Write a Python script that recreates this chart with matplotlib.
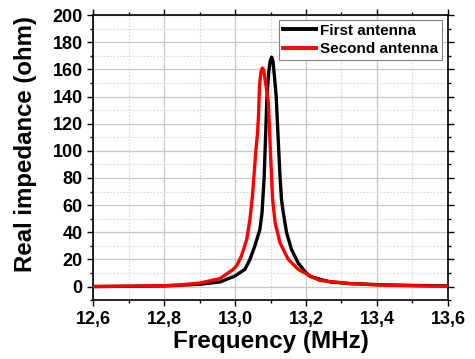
import matplotlib
matplotlib.use("Agg")
import matplotlib.pyplot as plt
from matplotlib.ticker import MultipleLocator, FixedLocator, FixedFormatter

plt.rcParams['font.family'] = ['Liberation Sans', 'DejaVu Sans']
plt.rcParams['font.weight'] = 'bold'

# First antenna (black)
freq1 = [12.60, 12.70, 12.80, 12.845, 12.901, 12.958, 13.000, 13.028, 13.042, 13.056,
         13.070, 13.076, 13.082, 13.086, 13.090, 13.095, 13.099, 13.103, 13.107, 13.111,
         13.116, 13.121, 13.127, 13.131, 13.136, 13.145, 13.159, 13.177, 13.197, 13.211,
         13.239, 13.268, 13.324, 13.400, 13.465, 13.530, 13.600]
imp1 = [0.0, 0.2, 0.5, 1.0, 1.7, 3.4, 7.8, 12.7, 20.0, 30.0,
        42.0, 54.0, 80.0, 110.0, 140.0, 158.0, 166.0, 169.0, 166.0, 155.0,
        140.0, 112.0, 80.0, 64.0, 54.5, 40.0, 27.4, 17.8, 11.0, 7.5,
        5.4, 3.4, 2.2, 1.4, 1.0, 0.7, 0.5]

# Second antenna (red)
freq2 = [12.60, 12.70, 12.80, 12.845, 12.901, 12.958, 12.995, 13.005, 13.018, 13.033,
         13.042, 13.049, 13.053, 13.058, 13.063, 13.066, 13.069, 13.073, 13.077, 13.081,
         13.085, 13.089, 13.094, 13.098, 13.103, 13.106, 13.113, 13.127, 13.150, 13.178,
         13.221, 13.239, 13.324, 13.400, 13.500, 13.600]
imp2 = [0.0, 0.3, 0.6, 1.2, 2.6, 5.9, 12.7, 15.5, 22.5, 34.8,
        49.5, 66.6, 80.0, 98.0, 112.0, 125.0, 148.0, 158.0, 161.0, 159.0,
        152.0, 145.0, 135.0, 110.0, 80.0, 64.0, 47.0, 32.0, 20.0, 12.7,
        6.6, 4.5, 2.2, 1.2, 0.6, 0.2]

series_labels = ["First antenna", "Second antenna"]
xticks = [12.6, 12.8, 13.0, 13.2, 13.4, 13.6]
xticklabels = ["12,6", "12,8", "13,0", "13,2", "13,4", "13,6"]
yticks = [0, 20, 40, 60, 80, 100, 120, 140, 160, 180, 200]

fig = plt.figure(figsize=(4.75, 3.59), dpi=100)
ax = fig.add_axes([0.196, 0.164, 0.747, 0.794])

ax.plot(freq1, imp1, color='black', lw=2.4, label=series_labels[0], zorder=3,
        solid_joinstyle='round')
ax.plot(freq2, imp2, color='#ff0000', lw=2.4, label=series_labels[1], zorder=4,
        solid_joinstyle='round')

ax.set_xlim(12.6, 13.6)
ax.set_ylim(-10, 200)
ax.xaxis.set_major_locator(FixedLocator(xticks))
ax.xaxis.set_major_formatter(FixedFormatter(xticklabels))
ax.xaxis.set_minor_locator(MultipleLocator(0.1))
ax.yaxis.set_major_locator(FixedLocator(yticks))
ax.yaxis.set_minor_locator(MultipleLocator(10))

ax.grid(which='major', color='#c8c8c8', lw=0.9, ls='-', zorder=0)
ax.grid(which='minor', color='#d8d8d8', lw=0.8, ls=(0, (1.5, 1.5)), zorder=0)
ax.set_axisbelow(True)

ax.tick_params(which='both', direction='out', top=True, right=True, width=1.0,
               labelsize=13, pad=3)
ax.tick_params(which='major', length=4.5)
ax.tick_params(which='minor', length=2.5)
for lab in ax.get_xticklabels() + ax.get_yticklabels():
    lab.set_fontweight('bold')
for s in ax.spines.values():
    s.set_linewidth(1.2)

ax.set_xlabel("Frequency (MHz)", fontsize=17.5, fontweight='bold', labelpad=2)
ax.set_ylabel("Real impedance (ohm)", fontsize=17.3, fontweight='bold')
ax.yaxis.set_label_coords(-0.157, 0.547)

leg = ax.legend(loc='upper right', bbox_to_anchor=(0.988, 0.988), fancybox=False,
                edgecolor='#808080', framealpha=1, prop={'weight': 'bold', 'size': 11},
                handlelength=2.2, handletextpad=0.25, borderpad=0.25, labelspacing=0.3,
                borderaxespad=0.1)
leg.get_frame().set_linewidth(0.8)
for l in leg.get_lines():
    l.set_linewidth(2.8)

fig.savefig("out.png", dpi=100)
